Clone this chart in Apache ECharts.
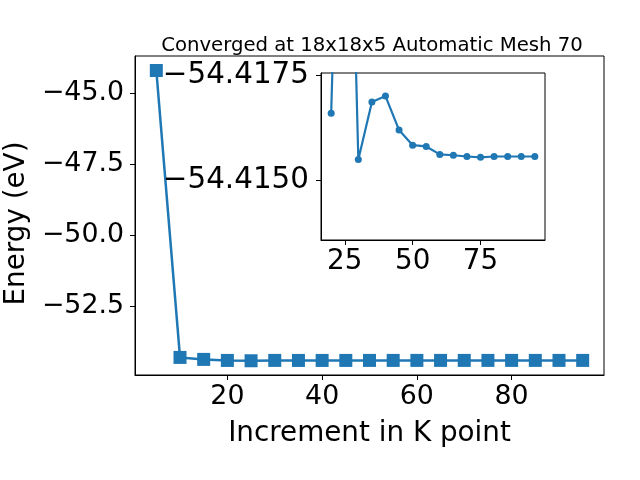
<!DOCTYPE html>
<html>
<head>
<meta charset="utf-8">
<script src="https://cdn.jsdelivr.net/npm/echarts@6/dist/echarts.min.js"></script>
<style>html,body{margin:0;padding:0;background:#fff}#c{width:640px;height:480px}</style>
</head>
<body>
<div id="c"></div>
<script>
const kpoints = [5, 10, 15, 20, 25, 30, 35, 40, 45, 50, 55, 60, 65, 70, 75, 80, 85, 90, 95];
const energy = [-44.20, -54.31, -54.38, -54.41659, -54.428, -54.41549, -54.41686, -54.41700, -54.41619,
  -54.41583, -54.41580, -54.41561, -54.41559, -54.41556, -54.41554, -54.41556, -54.41556, -54.41556, -54.41556];
const mainXTicks = [20, 40, 60, 80];
const mainYTicks = [-52.5, -50.0, -47.5, -45.0];
const insetXTicks = [25, 50, 75];
const insetYTicks = [-54.4175, -54.4150];
const insetStart = 3; // inset shows k = 20 .. 95
const titleText = 'Converged at 18x18x5 Automatic Mesh 70';

const C = '#1f77b4';
const F = 'DejaVu Sans';
const FS = 27.8;
const FT = 26.8;
const minus = (s) => s.replace('-', '\u2212');
const mainData = kpoints.map((k, i) => [k, energy[i]]);
const insetData = kpoints.slice(insetStart).map((k, i) => [k, energy[i + insetStart]]);

const chart = echarts.init(document.getElementById('c'), null, {renderer: 'canvas'});
chart.setOption({
  animation: false,
  backgroundColor: '#fff',
  title: {
    text: titleText, left: 367, top: 31, textAlign: 'center',
    textStyle: {fontFamily: F, fontSize: 19.7, fontWeight: 'normal', color: '#000'}
  },
  grid: [
    {left: 135, right: 36, top: 56, bottom: 105, show: true, borderColor: '#000', borderWidth: 1, backgroundColor: '#fff', containLabel: false, outerBoundsMode: 'none'},
    {left: 321, right: 95, top: 73, bottom: 240, show: true, borderColor: '#000', borderWidth: 1, backgroundColor: '#fff', containLabel: false, outerBoundsMode: 'none', z: 5}
  ],
  xAxis: [
    {
      type: 'value', gridIndex: 0, min: 0.5, max: 99.5,
      name: 'Increment in K point', nameLocation: 'middle', nameGap: 45,
      nameTextStyle: {fontFamily: F, fontSize: FS, color: '#000'},
      axisLine: {show: true, onZero: false, lineStyle: {color: '#000', width: 1}},
      axisTick: {show: true, length: 5, lineStyle: {color: '#000'}, customValues: mainXTicks},
      axisLabel: {fontFamily: F, fontSize: FT, color: '#000', margin: 9, customValues: mainXTicks, formatter: v => String(v)},
      splitLine: {show: false}
    },
    {
      type: 'value', gridIndex: 1, min: 16.25, max: 98.75, z: 5,
      axisLine: {show: true, onZero: false, lineStyle: {color: '#000', width: 1}},
      axisTick: {show: true, length: 5, lineStyle: {color: '#000'}, customValues: insetXTicks},
      axisLabel: {fontFamily: F, fontSize: FS, color: '#000', margin: 8, customValues: insetXTicks, formatter: v => String(v)},
      splitLine: {show: false}
    }
  ],
  yAxis: [
    {
      type: 'value', gridIndex: 0, min: -54.93, max: -43.69,
      name: 'Energy (eV)', nameLocation: 'middle', nameGap: 104,
      nameTextStyle: {fontFamily: F, fontSize: FS, color: '#000', padding: [0, 16, 0, 0]},
      axisLine: {show: true, onZero: false, lineStyle: {color: '#000', width: 1}},
      axisTick: {show: true, length: 5, lineStyle: {color: '#000'}, customValues: mainYTicks},
      axisLabel: {fontFamily: F, fontSize: FT, color: '#000', margin: 11, customValues: mainYTicks, formatter: v => minus(v.toFixed(1))},
      splitLine: {show: false}
    },
    {
      type: 'value', gridIndex: 1, min: -54.41755, max: -54.41357, inverse: true, z: 5,
      axisLine: {show: true, onZero: false, lineStyle: {color: '#000', width: 1}},
      axisTick: {show: true, length: 5, lineStyle: {color: '#000'}, customValues: insetYTicks},
      axisLabel: {fontFamily: F, fontSize: 29.4, color: '#000', margin: 12, customValues: insetYTicks, formatter: v => minus(v.toFixed(4))},
      splitLine: {show: false}
    }
  ],
  series: [
    {
      type: 'line', xAxisIndex: 0, yAxisIndex: 0, data: mainData,
      symbol: 'rect', symbolSize: 13, showAllSymbol: true,
      lineStyle: {color: C, width: 2.5}, itemStyle: {color: C}, clip: true, z: 2
    },
    {
      type: 'line', xAxisIndex: 1, yAxisIndex: 1, data: insetData,
      symbol: 'circle', symbolSize: 7, showAllSymbol: true,
      lineStyle: {color: C, width: 2.2}, itemStyle: {color: C}, clip: true, z: 6
    }
  ]
});
</script>
</body>
</html>
